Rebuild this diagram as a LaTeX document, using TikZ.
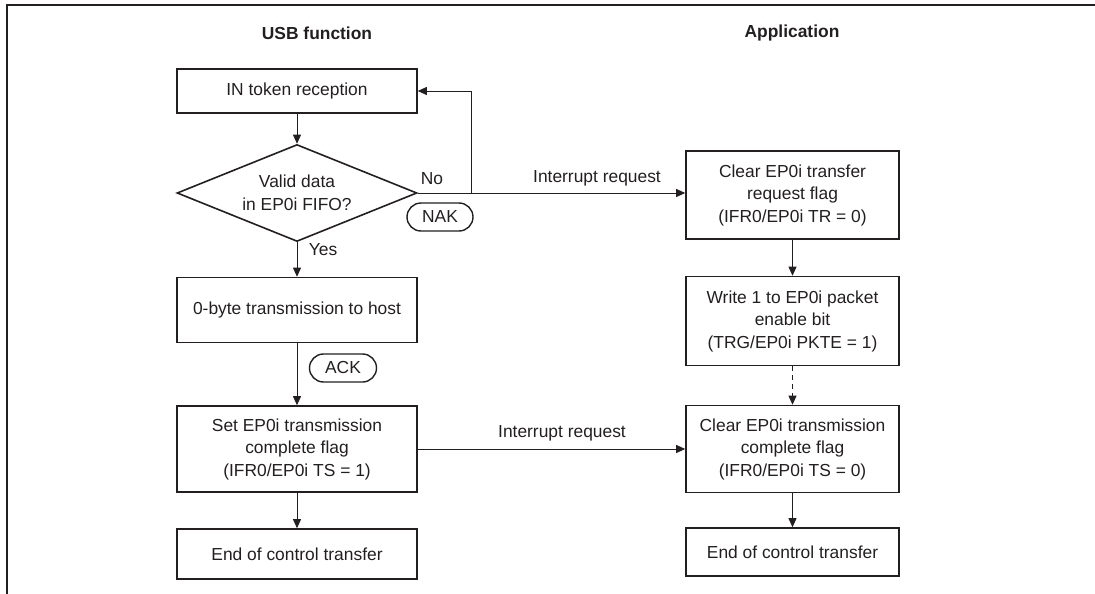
\documentclass[tikz,border=0pt]{standalone}
\usepackage{fontspec}
\setmainfont{Liberation Sans}
\usetikzlibrary{arrows.meta,shapes.geometric}
\definecolor{ink}{HTML}{231F20}
\begin{document}
\begin{tikzpicture}[x=1pt,y=-1pt,
  txt/.style={text=ink, font=\fontsize{17.4}{22.5}\selectfont},
  boxbase/.style={txt, draw=ink, line width=1.6pt, align=center, inner sep=0pt},
  lbox/.style={boxbase, minimum width=240pt},
  rbox/.style={boxbase, minimum width=213pt},
  dia/.style={boxbase, diamond, shape aspect=2.5, minimum width=240pt, minimum height=97pt},
  oval/.style={txt, draw=ink, line width=1.4pt, rounded corners=14pt, minimum width=66pt, minimum height=28pt, inner sep=0pt},
  title/.style={text=ink, font=\fontsize{17.4}{20}\selectfont\bfseries},
  lbl/.style={txt, inner sep=0pt},
  arr/.style={draw=ink, line width=0.8pt, -{Triangle[length=9pt,width=8pt]}}
]
\useasboundingbox (0,0) rectangle (1095,594);
\draw[ink, line width=2pt] (7,594) -- (7,5) -- (1095,5);

\node[title] (t1) at (317,33) {USB function};
\node[title] (t2) at (792,33) {Application};

\node[lbox, minimum height=44pt] (in) at (297,91) {IN token reception};
\node[dia] (dec) at (297,193) {Valid data\\in EP0i FIFO?};
\node[lbox, minimum height=65pt] (zero) at (297,310) {0-byte transmission to host};
\node[lbox, minimum height=86pt] (set) at (297,449) {Set EP0i transmission\\complete flag\\(IFR0/EP0i TS = 1)};
\node[lbox, minimum height=50pt] (endl) at (297,554) {End of control transfer};

\node[rbox, minimum height=88pt] (clr) at (792.5,195) {Clear EP0i transfer\\request flag\\(IFR0/EP0i TR = 0)};
\node[rbox, minimum height=89pt] (wr) at (792.5,321) {Write 1 to EP0i packet\\enable bit\\(TRG/EP0i PKTE = 1)};
\node[rbox, minimum height=87pt] (clt) at (792.5,449) {Clear EP0i transmission\\complete flag\\(IFR0/EP0i TS = 0)};
\node[rbox, minimum height=48pt] (endr) at (792.5,552) {End of control transfer};

\node[oval] (nak) at (440,217) {NAK};
\node[oval, minimum width=67pt] (ack) at (343,368) {ACK};

\node[lbl] (no) at (432,179) {No};
\node[lbl] (yes) at (323,250) {Yes};
\node[lbl] (ir1) at (597,178) {Interrupt request};
\node[lbl] (ir2) at (562,433) {Interrupt request};

\coordinate (lp) at (471,193);
\draw[arr] (in) -- (dec);
\draw[arr] (dec) -- (zero);
\draw[arr] (zero) -- (set);
\draw[arr] (set) -- (endl);
\draw[arr] (dec.east) -- (clr.west |- dec.east);
\draw[arr] (dec.east) -- (lp) |- (in.east);
\draw[arr] (clr) -- (wr);
\draw[arr, dash pattern=on 5pt off 4pt] (wr) -- (clt);
\draw[arr] (clt) -- (endr);
\draw[arr] (set.east) -- (clt.west);
\end{tikzpicture}
\end{document}
